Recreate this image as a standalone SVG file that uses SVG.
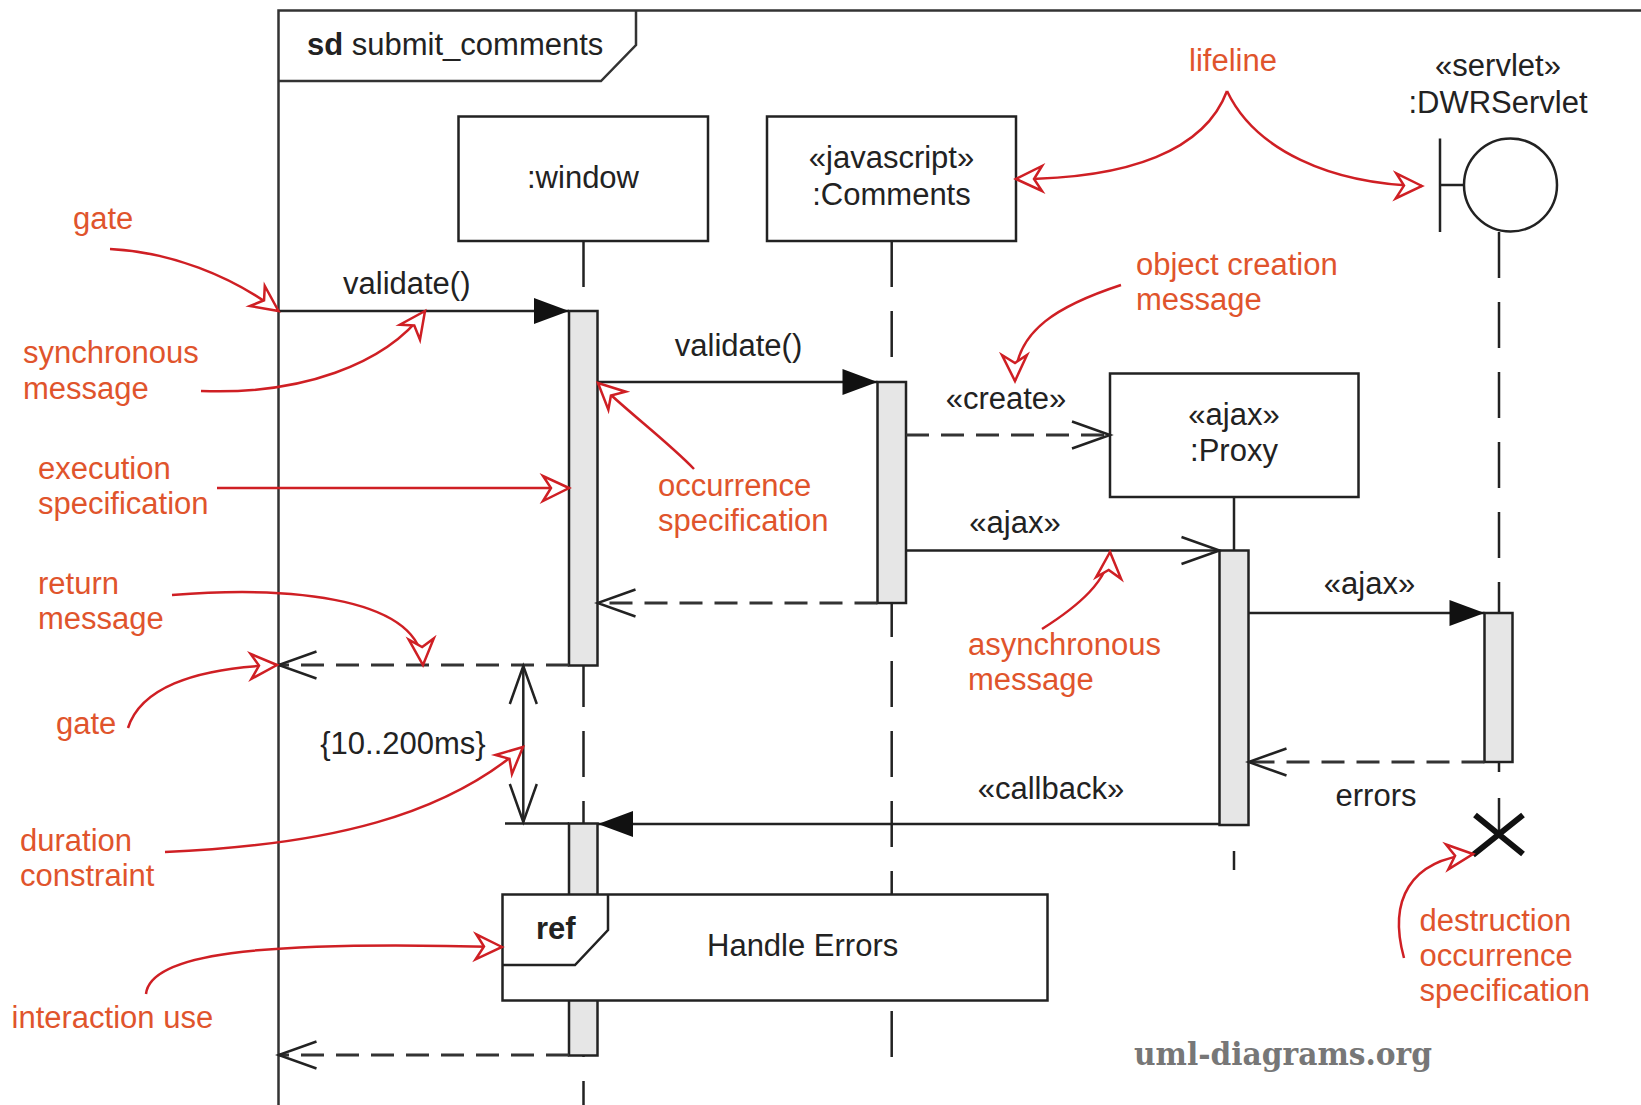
<svg xmlns="http://www.w3.org/2000/svg" width="1641" height="1105" viewBox="0 0 1641 1105">
<style>
  .t { font-family: "Liberation Sans", Arial, sans-serif; font-size: 31px; fill: #222; }
  .c { text-anchor: middle; }
  .b { font-weight: bold; }
  .r { font-family: "Liberation Sans", Arial, sans-serif; font-size: 31px; fill: #e0542c; }
  .box { fill: #fff; stroke: #222; stroke-width: 2.5; }
  .bar { fill: #e6e6e6; stroke: #222; stroke-width: 2.5; }
  .ll { fill: none; stroke: #222; stroke-width: 2.5; }
  .dll { fill: none; stroke: #222; stroke-width: 2.5; stroke-dasharray: 46 24; }
  .msg { fill: none; stroke: #222; stroke-width: 2.5; }
  .ret { fill: none; stroke: #333; stroke-width: 3; stroke-dasharray: 23 12; }
  .note { fill: none; stroke: #cf1f24; stroke-width: 2.5; marker-end: url(#dart); }
</style>
<defs>
  <marker id="fill" viewBox="-40 -16 44 32" markerWidth="44" markerHeight="32" refX="0" refY="0" orient="auto" markerUnits="userSpaceOnUse">
    <path d="M0,0 L-35,-13 L-35,13 Z" fill="#111"/>
  </marker>
  <marker id="vee" viewBox="-42 -18 46 36" markerWidth="46" markerHeight="36" refX="0" refY="0" orient="auto-start-reverse" markerUnits="userSpaceOnUse">
    <path d="M-38,-13.5 L0,0 L-38,13.5" fill="none" stroke="#222" stroke-width="2.5"/>
  </marker>
  <marker id="dart" viewBox="-32 -18 36 36" markerWidth="36" markerHeight="36" refX="0" refY="0" orient="auto" markerUnits="userSpaceOnUse">
    <path d="M0,0 L-26,-12 L-18,0 L-26,13 Z" fill="#fff" stroke="#cf1f24" stroke-width="2.5" stroke-linejoin="miter"/>
  </marker>
</defs>
<rect width="1641" height="1105" fill="#fff"/>

<g id="frame">
  <path d="M278.5,1105 V10.5 H1641" fill="none" stroke="#333" stroke-width="2.5"/>
  <path d="M278.5,81 H601 L636,45 V10.5" fill="none" stroke="#333" stroke-width="2.5"/>
  <text class="t" x="307" y="55"><tspan class="b">sd</tspan> submit_comments</text>
</g>

<g id="lifelines">
  <line class="dll" x1="583.5" y1="241" x2="583.5" y2="1105"/>
  <line class="dll" x1="891.7" y1="241" x2="891.7" y2="1067"/>
  <line class="ll" x1="1234" y1="497" x2="1234" y2="551"/>
  <line class="ll" x1="1234" y1="851" x2="1234" y2="870"/>
  <line class="dll" x1="1499" y1="232" x2="1499" y2="613"/>
  <line class="ll" x1="1499" y1="762" x2="1499" y2="772"/>
  <line class="ll" x1="1499" y1="798" x2="1499" y2="834"/>
</g>

<g id="window">
  <rect class="box" x="458.5" y="116.5" width="249.5" height="124.5"/>
  <text class="t c" x="583" y="188">:window</text>
</g>
<g id="comments">
  <rect class="box" x="767" y="116.5" width="249" height="124.5"/>
  <text class="t c" x="891.5" y="168">«javascript»</text>
  <text class="t c" x="891.5" y="205">:Comments</text>
</g>
<g id="proxy">
  <rect class="box" x="1110" y="373.5" width="248.5" height="123.5"/>
  <text class="t c" x="1234" y="425">«ajax»</text>
  <text class="t c" x="1234" y="461">:Proxy</text>
</g>
<g id="dwrservlet">
  <text class="t c" x="1498" y="75.5">«servlet»</text>
  <text class="t c" x="1498" y="113">:DWRServlet</text>
  <line class="ll" x1="1440" y1="138.5" x2="1440" y2="232"/>
  <line class="ll" x1="1440" y1="185" x2="1464" y2="185"/>
  <circle cx="1510.5" cy="185" r="46.5" fill="#fff" stroke="#222" stroke-width="2.5"/>
</g>

<g id="activations">
  <rect class="bar" x="569" y="311" width="28.5" height="354.5"/>
  <rect class="bar" x="569" y="823.5" width="28.5" height="232"/>
  <rect class="bar" x="877.5" y="382" width="28.5" height="221"/>
  <rect class="bar" x="1219.5" y="550.5" width="29" height="274.5"/>
  <rect class="bar" x="1484.5" y="613" width="28" height="149"/>
</g>

<g id="destruction">
  <path d="M1475,815 L1523,854 M1473,855 L1523,815" fill="none" stroke="#111" stroke-width="6"/>
</g>

<g id="connectors">
  <line class="msg" x1="278.5" y1="311" x2="569" y2="311" marker-end="url(#fill)"/>
  <text class="t" x="343" y="294">validate()</text>
  <line class="msg" x1="597.5" y1="382" x2="877.5" y2="382" marker-end="url(#fill)"/>
  <text class="t c" x="738.5" y="356">validate()</text>
  <line class="ret" x1="906" y1="435" x2="1110" y2="435" marker-end="url(#vee)"/>
  <text class="t c" x="1006" y="408.5">«create»</text>
  <line class="msg" x1="906" y1="550.5" x2="1219.5" y2="550.5" marker-end="url(#vee)"/>
  <text class="t c" x="1015" y="533">«ajax»</text>
  <line class="ret" x1="877.5" y1="603" x2="597.5" y2="603" marker-end="url(#vee)"/>
  <line class="msg" x1="1248.5" y1="613" x2="1484.5" y2="613" marker-end="url(#fill)"/>
  <text class="t c" x="1369.5" y="594">«ajax»</text>
  <line class="ret" x1="1484.5" y1="762" x2="1248.5" y2="762" marker-end="url(#vee)"/>
  <text class="t c" x="1376" y="806">errors</text>
  <line class="msg" x1="1219.5" y1="824" x2="598" y2="824" marker-end="url(#fill)"/>
  <text class="t c" x="1051" y="798.5">«callback»</text>
  <line class="ret" x1="569" y1="665" x2="278.5" y2="665" marker-end="url(#vee)"/>
  <line class="ret" x1="569" y1="1055" x2="278.5" y2="1055" marker-end="url(#vee)"/>
  <line class="msg" x1="523.3" y1="666" x2="523.3" y2="822" marker-start="url(#vee)" marker-end="url(#vee)"/>
  <line class="msg" x1="505" y1="823.5" x2="569" y2="823.5"/>
  <text class="t c" x="403" y="754">{10..200ms}</text>
</g>

<g id="ref-handle-errors">
  <rect class="box" x="502.5" y="894.5" width="545" height="106"/>
  <path d="M502.5,965 H575 L608,930 V894.5" fill="none" stroke="#222" stroke-width="2.5"/>
  <text class="t b" x="536" y="938.5">ref</text>
  <text class="t" x="707" y="956">Handle Errors</text>
</g>

<g id="annotations">
  <text class="r" x="1189" y="71">lifeline</text>
  <path class="note" d="M1227,91 C1205,150 1130,179 1016,179"/>
  <path class="note" d="M1227,91 C1255,150 1330,184 1422,186"/>

  <text class="r" x="73" y="229">gate</text>
  <path class="note" d="M110,249 C170,252 230,275 278.5,311"/>

  <text class="r" x="23" y="363">synchronous</text>
  <text class="r" x="23" y="399">message</text>
  <path class="note" d="M201,391 C300,395 385,365 425,311"/>

  <text class="r" x="38" y="479">execution</text>
  <text class="r" x="38" y="514">specification</text>
  <path class="note" d="M217,488 H569"/>

  <text class="r" x="658" y="496">occurrence</text>
  <text class="r" x="658" y="531">specification</text>
  <path class="note" d="M694,469 C668,442 628,412 598,383"/>

  <text class="r" x="1136" y="275">object creation</text>
  <text class="r" x="1136" y="310">message</text>
  <path class="note" d="M1121,285 C1060,305 1015,330 1015,381"/>

  <text class="r" x="968" y="655">asynchronous</text>
  <text class="r" x="968" y="690">message</text>
  <path class="note" d="M1042,629 C1080,605 1108,580 1110,552"/>

  <text class="r" x="38" y="594">return</text>
  <text class="r" x="38" y="629">message</text>
  <path class="note" d="M172,595 C300,585 420,600 423,665"/>

  <text class="r" x="56" y="734">gate</text>
  <path class="note" d="M128,728 C140,690 190,668 277,665"/>

  <text class="r" x="20" y="851">duration</text>
  <text class="r" x="20" y="886">constraint</text>
  <path class="note" d="M165,852 C330,845 445,815 523,747"/>

  <text class="r" x="11.5" y="1028">interaction use</text>
  <path class="note" d="M146,994 C150,955 250,940 502,947"/>

  <text class="r" x="1419.5" y="930.5">destruction</text>
  <text class="r" x="1419.5" y="966">occurrence</text>
  <text class="r" x="1419.5" y="1001">specification</text>
  <path class="note" d="M1404,958 C1388,900 1410,860 1473,854"/>
</g>

<text x="1134" y="1065" font-family="'DejaVu Serif', serif" font-weight="bold" font-stretch="condensed" font-size="31" fill="#777" textLength="298" lengthAdjust="spacingAndGlyphs">uml-diagrams.org</text>
</svg>
